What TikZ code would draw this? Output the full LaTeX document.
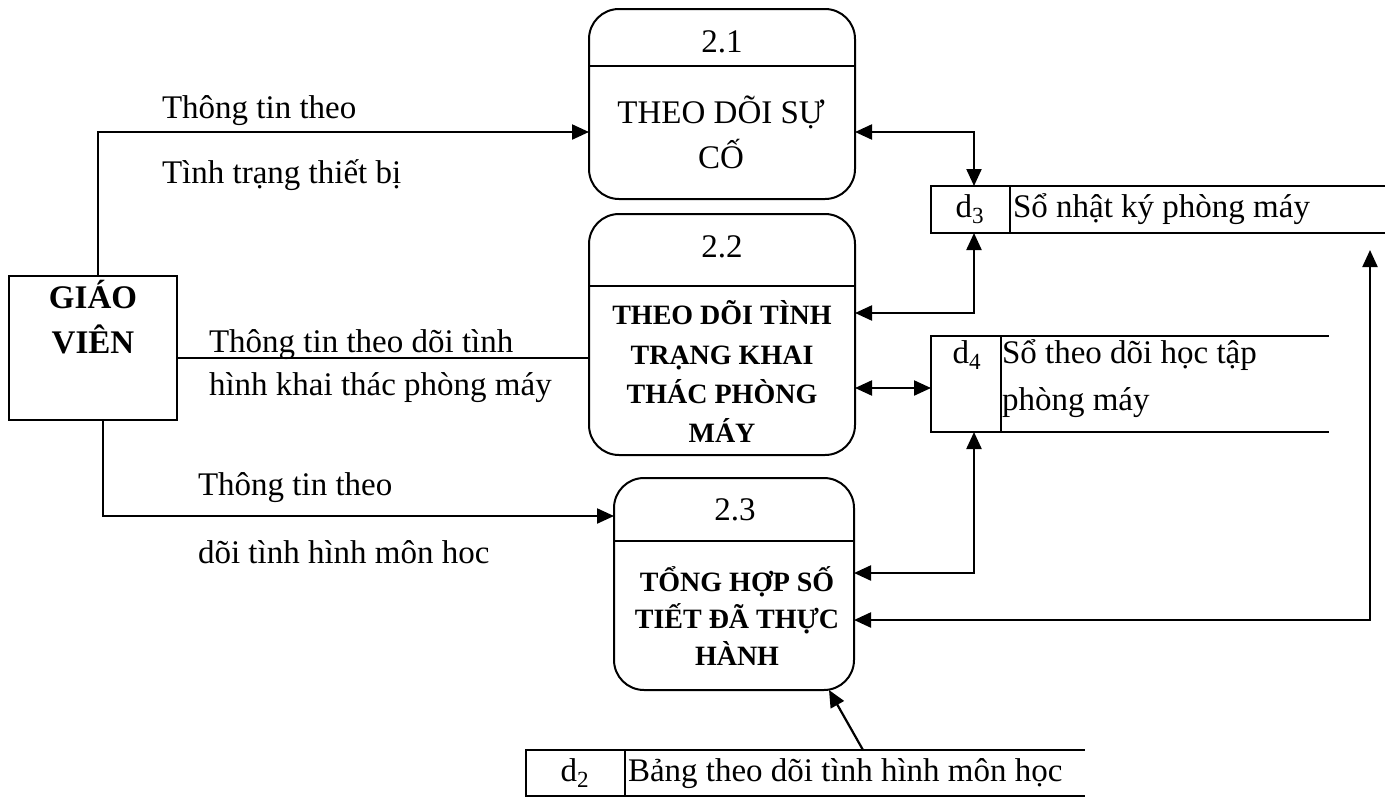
\documentclass[tikz,border=0pt]{standalone}
\usepackage{fontspec}
\setmainfont{Liberation Serif}
\usetikzlibrary{arrows.meta,calc}
\begin{document}
\begin{tikzpicture}[x=1pt,y=-1pt,
  every node/.style={inner sep=0pt, outer sep=0pt},
  reg/.style={font=\fontsize{33}{40}\selectfont},
  bld/.style={font=\fontsize{28}{32}\selectfont\bfseries},
  gvb/.style={font=\fontsize{33}{40}\selectfont\bfseries},
  proc/.style={draw, line width=2pt, rounded corners=30pt},
  ent/.style={draw, line width=2pt},
  idbox/.style={draw, line width=1.5pt},
  sline/.style={line width=2pt},
  conn/.style={line width=2.2pt},
  arr/.style={conn, -{Triangle[length=17pt,width=15pt]}},
  biarr/.style={conn, {Triangle[length=17pt,width=15pt]}-{Triangle[length=17pt,width=15pt]}},
  divl/.style={line width=1.6pt}
]
\useasboundingbox (0,0) rectangle (1392,798);

% processes
\node[proc, minimum width=266pt, minimum height=190pt] (p1) at (722,104) {};
\node[proc, minimum width=266pt, minimum height=241pt] (p2) at (722,334.5) {};
\node[proc, minimum width=240pt, minimum height=212pt] (p3) at (734,584) {};
\draw[divl] ($(p1.north west)+(0,57)$) -- ($(p1.north east)+(0,57)$);
\draw[divl] ($(p2.north west)+(0,72)$) -- ($(p2.north east)+(0,72)$);
\draw[divl] ($(p3.north west)+(0,63)$) -- ($(p3.north east)+(0,63)$);

\node[reg, anchor=base] (p1n) at (722,52) {2.1};
\node[reg, anchor=base] (p1a) at (721,123) {THEO DÕI SỰ};
\node[reg, anchor=base] (p1b) at (721,168) {CỐ};

\node[reg, anchor=base] (p2n) at (722,257) {2.2};
\node[bld, anchor=base] (p2a) at (722,324) {THEO DÕI TÌNH};
\node[bld, anchor=base] (p2b) at (722,364) {TRẠNG KHAI};
\node[bld, anchor=base] (p2c) at (722,403) {THÁC PHÒNG};
\node[bld, anchor=base] (p2d) at (722,442) {MÁY};

\node[reg, anchor=base] (p3n) at (735,520) {2.3};
\node[bld, anchor=base] (p3a) at (737,591) {TỔNG HỢP SỐ};
\node[bld, anchor=base] (p3b) at (737,628) {TIẾT ĐÃ THỰC};
\node[bld, anchor=base] (p3c) at (737,665) {HÀNH};

% external entity
\node[ent, minimum width=168pt, minimum height=144pt] (gv) at (93,348) {};
\node[gvb, anchor=base] (gva) at (93,308) {GIÁO};
\node[gvb, anchor=base] (gvb) at (93,353) {VIÊN};

% data stores
\node[idbox, minimum width=79pt, minimum height=47pt] (d3id) at (970.5,209.5) {};
\draw[sline] (d3id.north west) -- (d3id.north east) -- ++(375,0);
\draw[sline] (d3id.south west) -- (d3id.south east) -- ++(375,0);
\node[reg, anchor=base] (d3l) at (970,217) {d\textsubscript{3}};
\node[reg, anchor=base west] (d3t) at (1013,217) {Sổ nhật ký phòng máy};

\node[idbox, minimum width=70pt, minimum height=96pt] (d4id) at (966,384) {};
\draw[sline] (d4id.north west) -- (d4id.north east) -- ++(328,0);
\draw[sline] (d4id.south west) -- (d4id.south east) -- ++(328,0);
\node[reg, anchor=base] (d4l) at (967,363) {d\textsubscript{4}};
\node[reg, anchor=base west] (d4t) at (1002,363) {Sổ theo dõi học tập};
\node[reg, anchor=base west] (d4u) at (1002,410) {phòng máy};

\node[idbox, minimum width=99pt, minimum height=46pt] (d2id) at (575.5,773) {};
\draw[sline] (d2id.north west) -- (d2id.north east) -- ++(460,0);
\draw[sline] (d2id.south west) -- (d2id.south east) -- ++(460,0);
\node[reg, anchor=base] (d2l) at (575,781) {d\textsubscript{2}};
\node[reg, anchor=base west] (d2t) at (628,781) {Bảng theo dõi tình hình môn học};

% bend coordinates
\coordinate (c1) at (98,132);
\coordinate (c2) at (400,358);
\coordinate (c3) at (103,516);
\coordinate (a1) at (974,132);
\coordinate (a2) at (974,313);
\coordinate (a3) at (931,388);
\coordinate (a4) at (974,573);
\coordinate (a5) at (1370,620);
\coordinate (a6) at (1370,250);
\coordinate (b1) at (863,750);
\coordinate (b2) at (829,690);

% connectors from the teacher
\draw[arr] (gv.north -| c1) -- (c1) -- (c1 -| p1.west);
\draw[line width=1.4pt] (gv.east |- c2) -- (c2 -| p2.west);
\draw[arr] (gv.south -| c3) -- (c3) -- (c3 -| p3.west);

% connectors to stores
\draw[biarr] (p1.east |- a1) -- (a1) -- (a1 |- d3id.north);
\draw[biarr] (a2 |- d3id.south) -- (a2) -- (a2 -| p2.east);
\draw[biarr] (p2.east |- a3) -- (a3 -| d4id.west);
\draw[biarr] (a4 |- d4id.south) -- (a4) -- (a4 -| p3.east);
\draw[biarr] (p3.east |- a5) -- (a5) -- (a6);
\draw[arr] (b1) -- (b2);

% flow labels
\node[reg, anchor=base west] (l1) at (162,118) {Thông tin theo};
\node[reg, anchor=base west] (l2) at (162,183) {Tình trạng thiết bị};
\node[reg, anchor=base west] (l3) at (209,352) {Thông tin theo dõi tình};
\node[reg, anchor=base west] (l4) at (209,395) {hình khai thác phòng máy};
\node[reg, anchor=base west] (l5) at (198,495) {Thông tin theo};
\node[reg, anchor=base west] (l6) at (198,563) {dõi tình hình môn hoc};
\end{tikzpicture}
\end{document}
